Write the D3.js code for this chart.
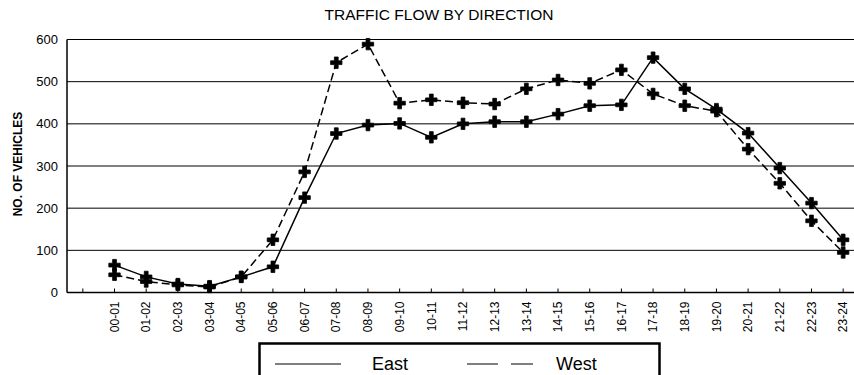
<!DOCTYPE html>
<html>
<head>
<meta charset="utf-8">
<script src="https://cdn.jsdelivr.net/npm/d3@7"></script>
<style>
    body { margin: 0; background: #fff; overflow: hidden; }
    text { font-family: Arial, "Liberation Sans", sans-serif; fill: #000; }
</style>
</head>
<body>
<div id="chart"></div>
<script>
// hourly counts
const hours = ["00-01", "01-02", "02-03", "03-04", "04-05", "05-06", "06-07", "07-08",
    "08-09", "09-10", "10-11", "11-12", "12-13", "13-14", "14-15", "15-16",
    "16-17", "17-18", "18-19", "19-20", "20-21", "21-22", "22-23", "23-24"];
const east = [65, 37, 20, 15, 37, 61, 225, 377, 397, 401, 368, 400, 405, 405, 423, 443,
    445, 557, 483, 435, 378, 295, 212, 125];
const west = [42, 26, 18, 13, 37, 125, 286, 545, 589, 449, 457, 450, 447, 483, 504, 496,
    528, 471, 443, 430, 340, 259, 170, 95];
const yTicks = [0, 100, 200, 300, 400, 500, 600];
const seriesNames = ["East", "West"];

class TrafficChart {
    constructor(parentElement) {
        this.parentElement = parentElement;
        this.initVis();
    }

    initVis() {
        let vis = this;
        vis.width = 854;
        vis.height = 375;
        vis.left = 67;
        vis.right = 859;   // plot runs a bit past the picture edge
        vis.top = 39.5;
        vis.bottom = 292.5;

        vis.svg = d3.select("#" + vis.parentElement)
            .append("svg")
            .attr("width", vis.width)
            .attr("height", vis.height);

        // first slot on the axis is left empty
        vis.x = d3.scaleBand()
            .domain([""].concat(hours))
            .range([vis.left, vis.right])
            .padding(0);

        vis.y = d3.scaleLinear()
            .domain([0, 600])
            .range([vis.bottom, vis.top]);

        vis.svg.append("text")
            .attr("x", 439)
            .attr("y", 20)
            .attr("text-anchor", "middle")
            .style("font-size", "15.5px")
            .text("TRAFFIC FLOW BY DIRECTION");

        vis.svg.append("text")
            .attr("transform", "translate(22,164) rotate(-90)")
            .attr("text-anchor", "middle")
            .style("font-size", "12px")
            .style("font-weight", "bold")
            .text("NO. OF VEHICLES");

        vis.wrangleData();
        vis.updateVis();
    }

    wrangleData() {
        let vis = this;
        vis.series = [
            { name: seriesNames[0], values: hours.map((h, i) => ({ hour: h, value: east[i] })), dash: null },
            { name: seriesNames[1], values: hours.map((h, i) => ({ hour: h, value: west[i] })), dash: "8,4" }
        ];
    }

    updateVis() {
        let vis = this;
        let cx = d => vis.x(d) + vis.x.bandwidth() / 2;

        // gridlines (top one doubles as the frame)
        vis.svg.append("g")
            .selectAll("line")
            .data(yTicks.slice(1))
            .enter().append("line")
            .attr("x1", vis.left)
            .attr("x2", vis.right)
            .attr("y1", d => vis.y(d))
            .attr("y2", d => vis.y(d))
            .attr("stroke", "#000")
            .attr("stroke-width", 1);

        // y labels, no tick marks
        vis.svg.append("g")
            .selectAll("text")
            .data(yTicks)
            .enter().append("text")
            .attr("x", 58)
            .attr("y", d => vis.y(d))
            .attr("dy", "0.35em")
            .attr("text-anchor", "end")
            .style("font-size", "13px")
            .text(d => d);

        // axis lines
        vis.svg.append("line")
            .attr("x1", vis.left).attr("x2", vis.left)
            .attr("y1", vis.top).attr("y2", vis.bottom)
            .attr("stroke", "#000").attr("stroke-width", 1.5);
        vis.svg.append("line")
            .attr("x1", vis.left).attr("x2", vis.right)
            .attr("y1", vis.bottom).attr("y2", vis.bottom)
            .attr("stroke", "#000").attr("stroke-width", 1.5);

        // x ticks point up into the plot
        vis.svg.append("g")
            .selectAll("line")
            .data(vis.x.domain())
            .enter().append("line")
            .attr("x1", d => cx(d))
            .attr("x2", d => cx(d))
            .attr("y1", vis.bottom)
            .attr("y2", vis.bottom - 4)
            .attr("stroke", "#000");

        vis.svg.append("g")
            .selectAll("text")
            .data(hours)
            .enter().append("text")
            .attr("transform", d => "translate(" + cx(d) + "," + (vis.bottom + 9) + ") rotate(-90)")
            .attr("dy", "0.35em")
            .attr("text-anchor", "end")
            .style("font-size", "12px")
            .text(d => d);

        const line = d3.line()
            .x(d => cx(d.hour))
            .y(d => vis.y(d.value));

        const marker = d3.symbol().type(d3.symbolCross).size(72);

        vis.series.forEach(s => {
            vis.svg.append("path")
                .datum(s.values)
                .attr("fill", "none")
                .attr("stroke", "#000")
                .attr("stroke-width", 1.5)
                .attr("stroke-dasharray", s.dash)
                .attr("d", line);

            vis.svg.append("g")
                .selectAll("path")
                .data(s.values)
                .enter().append("path")
                .attr("d", marker)
                .attr("transform", d => "translate(" + cx(d.hour) + "," + vis.y(d.value) + ")")
                .attr("fill", "#000")
                .attr("stroke", "#000")
                .attr("stroke-width", 0.8)
                .attr("stroke-linejoin", "round");
        });

        // legend box, bottom edge falls off the picture
        let legend = vis.svg.append("g").attr("class", "legend");
        legend.append("rect")
            .attr("x", 259.5)
            .attr("y", 343.5)
            .attr("width", 400)
            .attr("height", 50)
            .attr("fill", "none")
            .attr("stroke", "#000")
            .attr("stroke-width", 2.5);

        const legendPos = [{ lx: 275, tx: 372 }, { lx: 467, tx: 556 }];
        vis.series.forEach((s, i) => {
            legend.append("line")
                .attr("x1", legendPos[i].lx)
                .attr("x2", legendPos[i].lx + 66)
                .attr("y1", 364)
                .attr("y2", 364)
                .attr("stroke", "#000")
                .attr("stroke-width", 1)
                .attr("stroke-dasharray", s.dash ? "31,13" : null);
            legend.append("text")
                .attr("x", legendPos[i].tx)
                .attr("y", 370)
                .style("font-size", "18px")
                .text(s.name);
        });
    }
}

new TrafficChart("chart");
</script>
</body>
</html>
